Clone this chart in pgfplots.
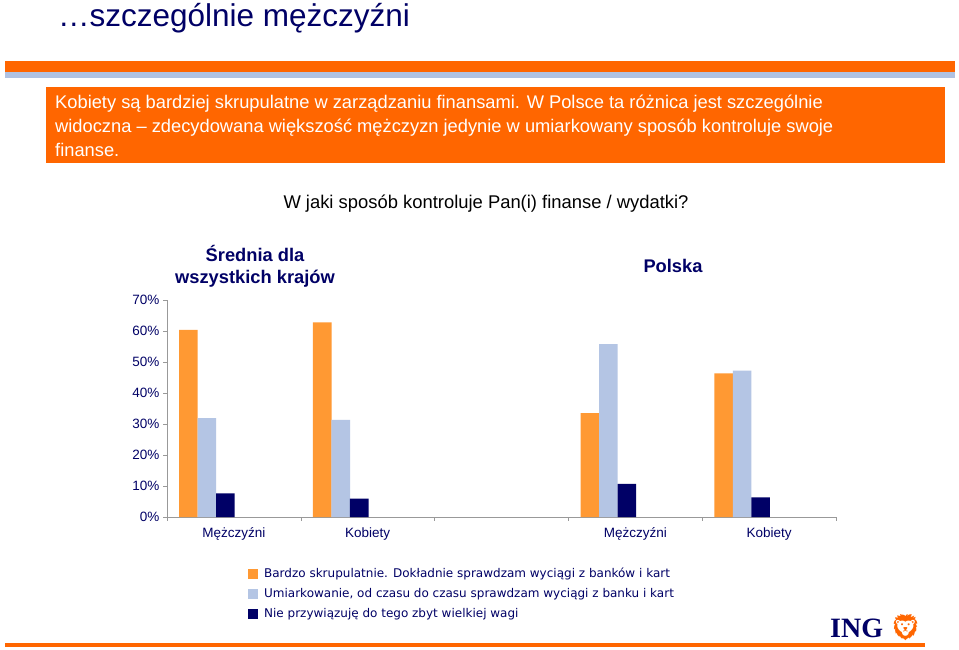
\documentclass[border=0pt]{standalone}
\usepackage{fontspec}
\setmainfont{Liberation Sans}
\newfontfamily\verd{DejaVu Sans}
\newfontfamily\timesb{Liberation Serif}
\newfontfamily\emo{Noto Emoji}
\usepackage{pgfplots}
\pgfplotsset{compat=1.18}

\definecolor{ingorange}{RGB}{255,102,0}
\definecolor{barorange}{RGB}{255,153,51}
\definecolor{barblue}{RGB}{180,197,228}
\definecolor{ingnavy}{RGB}{0,0,102}
\definecolor{stripeblue}{RGB}{176,194,226}

\pgfplotsset{
  mybar/.style={ybar, bar width=18.6pt, draw=none, fill=#1,
    legend image code/.code={\fill[#1] (0pt,-5pt) rectangle (10pt,5pt); \path (15pt,0pt);}},
}

\begin{document}
\begin{tikzpicture}
\path[use as bounding box, fill=white] (0pt,0pt) rectangle (959pt,-650pt);

\begin{scope}[x=1pt,y=-1pt]
  % page title and banner
  \node[anchor=base west, inner sep=0, text=ingnavy, font=\fontsize{31.5}{32}\selectfont] at (58,27) {…szczególnie mężczyźni};
  \fill[ingorange] (5,61) rectangle (955,72);
  \fill[stripeblue] (5,72) rectangle (955,78);
  \fill[ingorange] (46,87) rectangle (945,163);
  \begin{scope}[every node/.style={anchor=base west, inner sep=0, text=white, font=\fontsize{18.3}{20}\selectfont}]
    \node at (55,109) {Kobiety są bardziej skrupulatne w zarządzaniu finansami. W Polsce ta różnica jest szczególnie};
    \node at (55,133) {widoczna – zdecydowana większość mężczyzn jedynie w umiarkowany sposób kontroluje swoje};
    \node at (55,157) {finanse.};
  \end{scope}

  % chart titles
  \node[anchor=base, inner sep=0, font=\fontsize{18.4}{20}\selectfont] at (486,208) {W jaki sposób kontroluje Pan(i) finanse / wydatki?};
  \begin{scope}[every node/.style={anchor=base, inner sep=0, text=ingnavy, font=\bfseries\fontsize{18.3}{22}\selectfont}]
    \node at (255,261) {Średnia dla};
    \node at (255,283) {wszystkich krajów};
    \node at (673,272) {Polska};
  \end{scope}

  % logo and bottom rule
  \node[anchor=base west, inner sep=0, text=ingnavy, font=\timesb\bfseries\fontsize{28}{28}\selectfont] at (830,637) {ING};
  \node[anchor=base west, inner sep=0, text=ingorange, font=\emo\fontsize{26}{26}\selectfont] at (889,636) {🦁};
  \fill[ingorange] (5,643) rectangle (925,647);
\end{scope}

\begin{axis}[
  at={(167pt,-517pt)}, anchor=south west,
  width=669pt, height=217pt, scale only axis,
  xmin=-0.5, xmax=4.5, ymin=0, ymax=70,
  axis x line*=bottom, axis y line*=left,
  axis line style={draw=gray!80, -},
  tick align=outside, major tick length=4pt,
  ytick={0,10,...,70},
  yticklabels={0\%,10\%,20\%,30\%,40\%,50\%,60\%,70\%},
  ytick style={draw=gray!80},
  xtick={0,1,3,4},
  xticklabels={Mężczyźni,Kobiety,Mężczyźni,Kobiety},
  xtick style={draw=none},
  x tick label style={yshift=-3pt},
  ticklabel style={font=\fontsize{13.5}{16}\selectfont, text=ingnavy},
  clip=false,
  legend style={at={(0.121,-0.23)}, anchor=north west, draw=none,
    font=\verd\fontsize{12}{13}\selectfont, text=ingnavy,
    row sep=6pt, inner sep=0pt,
    nodes={inner sep=1pt, text height=9pt, text depth=3pt}},
  legend cell align=left,
]
\addplot[mybar=barorange, bar shift=-45.5pt] coordinates {(0,60.4) (1,62.8) (3,33.5) (4,46.3)};
\addlegendentry{Bardzo skrupulatnie. Dokładnie sprawdzam wyciągi z banków i kart}
\addplot[mybar=barblue, bar shift=-27pt] coordinates {(0,31.9) (1,31.3) (3,55.8) (4,47.2)};
\addlegendentry{Umiarkowanie, od czasu do czasu sprawdzam wyciągi z banku i kart}
\addplot[mybar=ingnavy, bar shift=-8.5pt] coordinates {(0,7.6) (1,5.9) (3,10.7) (4,6.3)};
\addlegendentry{Nie przywiązuję do tego zbyt wielkiej wagi}
\pgfplotsinvokeforeach{-0.5,0.5,1.5,2.5,3.5,4.5}{
  \draw[gray!80] (axis cs:#1,0) -- ++(0pt,-4pt);
}
\end{axis}
\end{tikzpicture}
\end{document}
